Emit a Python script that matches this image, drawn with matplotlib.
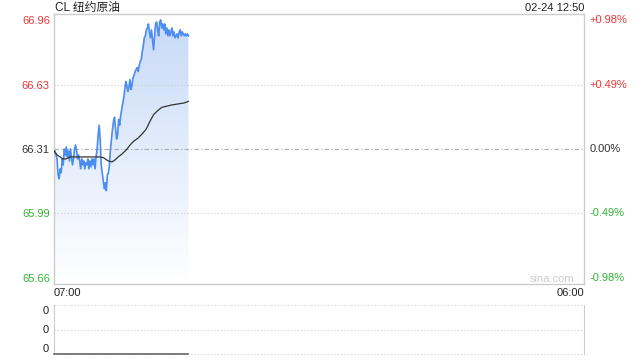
import matplotlib
matplotlib.use('Agg')
import matplotlib.pyplot as plt
import matplotlib.transforms as mtransforms
from matplotlib.colors import LinearSegmentedColormap
from matplotlib.patches import Polygon
import numpy as np

plt.rcParams['font.family'] = ['Liberation Sans', 'Noto Sans CJK SC']

# ---- data ----
title = 'CL 纽约原油'
stamp = '02-24 12:50'
prev_close = 66.31
price_ticks = [66.96, 66.63, 66.31, 65.99, 65.66]
pct_labels = ['+0.98%', '+0.49%', '0.00%', '-0.49%', '-0.98%']
time_labels = ['07:00', '06:00']
session_len = 1380   # minutes, 07:00 -> 06:00
last_minute = 350    # 12:50

prices = [
    66.30, 66.30, 66.28, 66.26, 66.18, 66.16, 66.21, 66.19, 66.26, 66.23,
    66.31, 66.28, 66.32, 66.27, 66.30, 66.25, 66.31, 66.27, 66.23, 66.26,
    66.31, 66.33, 66.30, 66.26, 66.28, 66.25, 66.21, 66.26, 66.23, 66.25,
    66.21, 66.24, 66.23, 66.26, 66.21, 66.25, 66.22, 66.26, 66.23, 66.26,
    66.21, 66.27, 66.31, 66.38, 66.43, 66.36, 66.23, 66.19, 66.15, 66.11,
    66.14, 66.10, 66.18, 66.19, 66.23, 66.31, 66.36, 66.41, 66.45, 66.47,
    66.41, 66.36, 66.38, 66.46, 66.43, 66.48, 66.51, 66.54, 66.57, 66.61,
    66.65, 66.63, 66.60, 66.62, 66.66, 66.61, 66.63, 66.67, 66.68, 66.70,
    66.71, 66.72, 66.70, 66.73, 66.75, 66.76, 66.80, 66.83, 66.87, 66.88,
    66.91, 66.92, 66.94, 66.90, 66.87, 66.91, 66.86, 66.81, 66.88, 66.94,
    66.95, 66.91, 66.88, 66.95, 66.96, 66.92, 66.94, 66.91, 66.94, 66.89,
    66.92, 66.88, 66.91, 66.88, 66.90, 66.92, 66.88, 66.90, 66.87, 66.88,
    66.89, 66.87, 66.90, 66.91, 66.88, 66.90, 66.89, 66.88, 66.89, 66.88,
    66.89, 66.88,
]
volume = [0] * len(prices)

avg_minutes = [0, 8, 16, 23, 31, 42, 68, 94, 120, 130, 141, 151, 159, 167,
               177, 188, 198, 208, 219, 229, 240, 250, 260, 271, 281, 292,
               307, 323, 339, 350]
avg_prices = [66.300, 66.280, 66.270, 66.260, 66.260, 66.270, 66.270, 66.270,
              66.270, 66.265, 66.250, 66.245, 66.255, 66.270, 66.285, 66.305,
              66.330, 66.350, 66.365, 66.385, 66.410, 66.450, 66.485, 66.505,
              66.520, 66.525, 66.532, 66.537, 66.542, 66.550]

minutes = np.linspace(0, last_minute, len(prices))

up_c, down_c, flat_c = '#f03333', '#33b533', '#333333'
ylo, yhi = 65.63, 66.99

fig = plt.figure(figsize=(6.4, 3.6), dpi=100)
ax = fig.add_axes([54/640, 1-284/360, 530/640, 270/360])

# gradient fill under the price line
grad = np.linspace(1, 0, 256).reshape(-1, 1)
cmap = LinearSegmentedColormap.from_list('fill', ['#ffffff', '#c6d9f7'])
im = ax.imshow(grad, extent=[0, last_minute, ylo, yhi], aspect='auto',
               cmap=cmap, origin='upper', zorder=1)
verts = [(minutes[0], ylo)] + list(zip(minutes, prices)) + [(minutes[-1], ylo)]
clip = Polygon(verts, closed=True, facecolor='none', edgecolor='none')
ax.add_patch(clip)
im.set_clip_path(clip)

ax.set_xlim(0, session_len)
ax.set_ylim(ylo, yhi)

for p in price_ticks[1:-1]:
    if p == prev_close:
        ax.axhline(p, color='#aaaaaa', lw=0.8, ls=(0, (4, 2, 1, 2)), zorder=2)
    else:
        ax.axhline(p, color='#cccccc', lw=0.8, ls=(0, (1, 2)), zorder=2)

ax.plot(minutes, prices, color='#4a8cf0', lw=1.2, zorder=3)
ax.plot(avg_minutes, avg_prices, color='#333333', lw=0.9, zorder=4)

def tone(p):
    if p > prev_close:
        return up_c
    if p < prev_close:
        return down_c
    return flat_c

ax.set_yticks(price_ticks)
ax.set_yticklabels([f'{p:.2f}' for p in price_ticks], fontsize=8)
for lab, p in zip(ax.get_yticklabels(), price_ticks):
    lab.set_color(tone(p))
ax.set_xticks([])
ax.tick_params(length=0, pad=3)

trans = mtransforms.blended_transform_factory(ax.transAxes, ax.transData)
for p, s in zip(price_ticks, pct_labels):
    ax.text(1.011, p, s, transform=trans, ha='left', va='center',
            fontsize=8, color=tone(p))

for sp in ax.spines.values():
    sp.set_color('#cccccc')
    sp.set_linewidth(1.0)

tx = mtransforms.blended_transform_factory(ax.transData, ax.transAxes)
ax.text(0, -0.033, time_labels[0], transform=tx, ha='left', va='center',
        fontsize=8, color='#222222')
ax.text(session_len, -0.033, time_labels[1], transform=tx, ha='right',
        va='center', fontsize=8, color='#222222')
ax.text(0.94, 0.02, 'sina.com', transform=ax.transAxes, ha='center',
        va='center', fontsize=8, color='#cccccc')

fig.text(55/640, 1-8/360, title, ha='left', va='center', fontsize=8.5,
         color='#222222')
fig.text(584/640, 1-8/360, stamp, ha='right', va='center', fontsize=8,
         color='#222222')

# volume panel
ax2 = fig.add_axes([54/640, 1-354/360, 530/640, 49/360])
ax2.set_xlim(0, session_len)
ax2.set_ylim(0, 1)
for yv in (0, 0.5, 1):
    ax2.axhline(yv, color='#cccccc', lw=0.8, ls=(0, (1, 2)), clip_on=False)
ax2.plot(minutes, volume, color='#666666', lw=1.2, clip_on=False, zorder=3)
ax2.spines['top'].set_visible(False)
ax2.spines['bottom'].set_visible(False)
for side in ('left', 'right'):
    ax2.spines[side].set_color('#cccccc')
ax2.set_xticks([])
ax2.set_yticks([0.12, 0.51, 0.9])
ax2.set_yticklabels(['0', '0', '0'], fontsize=8, color='#222222')
ax2.tick_params(length=0, pad=4)

fig.savefig('out.png', dpi=100)
